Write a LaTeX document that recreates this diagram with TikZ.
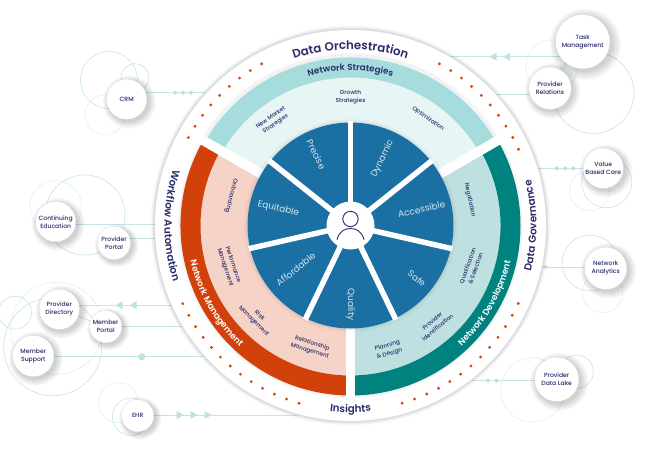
\documentclass[tikz,border=0pt]{standalone}
\usepackage{fontspec}
\setmainfont{Poppins}
\newfontfamily\semib{Poppins SemiBold}[LetterSpace=2]
\newfontfamily\medf{Poppins Medium}
\usetikzlibrary{decorations.text,shadows}
\definecolor{navy}{HTML}{2A2C6B}
\definecolor{lncol}{HTML}{C6E6E6}
\definecolor{mkcol}{HTML}{BCE2E2}
\definecolor{ored}{HTML}{D2410A}
\definecolor{opale}{HTML}{F5D3C6}
\definecolor{tdark}{HTML}{A6DCDC}
\definecolor{tpale}{HTML}{E8F5F5}
\definecolor{gdark}{HTML}{00827F}
\definecolor{gpale}{HTML}{BFE0E0}
\definecolor{wblue}{HTML}{1A6FA3}
\definecolor{wlab}{HTML}{D5E6F0}
\definecolor{dotr}{HTML}{D9450B}
\pgfdeclarelayer{bg}
\pgfsetlayers{bg,main}
\tikzset{
  softsh/.style={general shadow={draw=none,fill=black,fill opacity=.03,shadow xshift=2pt,shadow yshift=-2pt,shadow scale=#1}},
  softstack/.style={softsh=1.32,softsh=1.26,softsh=1.2,softsh=1.14,softsh=1.09,softsh=1.04},
  sat/.style={circle,fill=white,draw=lncol,dotted,line width=.4pt,inner sep=0pt,align=center,
    text=navy,font=\medf\fontsize{6.1}{8}\selectfont,softstack},
  ringsolid/.style={draw=lncol,line width=.6pt},
  ringdot/.style={draw=lncol,line width=.7pt,densely dotted},
  conn/.style={draw=lncol,line width=.8pt},
  wedge/.style={text=wlab,font=\fontsize{9}{10}\selectfont,inner sep=0pt},
  lab/.style={text=navy,font=\medf\fontsize{5.8}{8.2}\selectfont,align=center,inner sep=0pt},
}
\newcommand{\sect}[5]{\fill[#1] (#2:#5pt) arc[start angle=#2,end angle=#3,radius=#5pt] -- (#3:#4pt) arc[start angle=#3,end angle=#2,radius=#4pt] -- cycle;}
\newcommand{\arctxt}[6]{\path[decorate,decoration={text along path,text color=#4,text align=center,text={|#5|#6}}] (#2:#1pt) arc[start angle=#2,end angle=#3,radius=#1pt];}
\newcommand{\mdot}[2]{\fill[mkcol] (#1,#2) circle[radius=2pt];}
\newcommand{\tril}[2]{\fill[mkcol] (#1-3.5,#2) -- (#1+3.5,#2+4) -- (#1+3.5,#2-4) -- cycle;}
\newcommand{\trir}[2]{\fill[mkcol] (#1+3.5,#2) -- (#1-3.5,#2+4) -- (#1-3.5,#2-4) -- cycle;}
\newcommand{\ftop}{\semib\fontsize{11.8}{13}\selectfont}
\newcommand{\ftitle}{\semib\fontsize{10.3}{13}\selectfont}
\newcommand{\fband}{\semib\fontsize{8.8}{10}\selectfont}
\begin{document}
\begin{tikzpicture}[x=1pt,y=1pt]
\useasboundingbox (0,-453) rectangle (672,0);
\begin{pgfonlayer}{bg}
\fill[white] (0,-453) rectangle (672,0);
\end{pgfonlayer}
% satellites
\node[sat,minimum size=40pt] (crm) at (126.7,-99.3) {CRM};
\node[sat,minimum size=40pt] (ce) at (55.7,-221.7) {Continuing\\Education};
\node[sat,minimum size=33pt] (pp) at (114,-243) {Provider\\Portal};
\node[sat,minimum size=40pt] (pd) at (59.3,-309.3) {Provider\\Directory};
\node[sat,minimum size=32pt] (mp) at (105.7,-326.7) {Member\\Portal};
\node[sat,minimum size=41pt] (ms) at (33.3,-356) {Member\\Support};
\node[sat,minimum size=32pt] (ehr) at (137.7,-415.7) {EHR};
\node[sat,minimum size=54pt] (tm) at (582.7,-41.7) {Task\\Management};
\node[sat,minimum size=42pt] (pr) at (550,-88.3) {Provider\\Relations};
\node[sat,minimum size=40pt] (vbc) at (603.3,-168.3) {Value\\Based Care};
\node[sat,minimum size=42pt] (na) at (605.7,-268.3) {Network\\Analytics};
\node[sat,minimum size=44pt] (pdl) at (556.7,-379.3) {Provider\\Data Lake};
% connector ends
\coordinate (ecrm) at (205,-92.7);
\coordinate (ece) at (155,-224);
\coordinate (epp) at (155,-238);
\coordinate (epd) at (171.7,-305.3);
\coordinate (emp) at (181.7,-326.7);
\coordinate (ems) at (203,-356.7);
\coordinate (eehr) at (297,-415);
\coordinate (etm) at (451,-56.7);
\coordinate (epr) at (497,-94.3);
\coordinate (evbc) at (538,-168.3);
\coordinate (ena) at (542.3,-267);
\coordinate (epdl) at (471.7,-380.7);
\begin{pgfonlayer}{bg}
\draw[ringsolid] (109,-80) circle[radius=28.5];
\draw[ringsolid] (135,-77.7) circle[radius=14];
\draw[ringdot] (105,-115) circle[radius=20];
\draw[ringsolid] (85,-215) circle[radius=40];
\draw[ringdot] (55.7,-206.7) circle[radius=26];
\draw[ringsolid] (15,-312.7) circle[radius=16.5];
\draw[ringdot] (56.7,-328.3) circle[radius=46];
\draw[ringsolid] (52.7,-346.7) circle[radius=49];
\draw[ringdot] (118.3,-402.7) circle[radius=20];
\draw[ringsolid] (131,-416.7) circle[radius=18.7];
\draw[ringsolid] (593.3,-92.7) circle[radius=40.7];
\draw[ringdot] (551.7,-66) circle[radius=26];
\draw[ringsolid] (606.7,-182.7) circle[radius=25];
\draw[ringdot] (589.3,-190.7) circle[radius=20];
\draw[ringsolid] (590,-263) circle[radius=28];
\draw[ringdot] (602.7,-292.7) circle[radius=20];
\draw[ringsolid] (576.7,-371.7) circle[radius=16.7];
\draw[ringdot] (532.7,-390) circle[radius=32];
\draw[conn] (ecrm) -- (ecrm -| crm);
\draw[conn] (ece) -- (ece -| ce);
\draw[conn] (epp) -- (epp -| pp);
\draw[conn] (epd) -- (epd -| pd);
\draw[conn] (emp) -- (emp -| mp);
\draw[conn] (ems) -- (ems -| ms);
\draw[conn] (eehr) -- (eehr -| ehr);
\draw[conn] (etm) -- (etm -| tm);
\draw[conn] (epr) -- (epr -| pr);
\draw[conn] (evbc) -- (evbc -| vbc);
\draw[conn] (ena) -- (ena -| na);
\draw[conn] (epdl) -- (epdl -| pdl);
\draw[conn,line width=.6pt] (pd) -- (mp);
\draw[conn,line width=.6pt] (tm) -- (pr);
\end{pgfonlayer}
\mdot{175}{-92.7}\mdot{183}{-92.7}\mdot{191}{-92.7}
\tril{119}{-305.3}\tril{133}{-305.3}
\fill[mkcol] (141.7,-356.7) circle[radius=3.6pt];
\trir{180}{-415}\trir{194}{-415}\trir{208}{-415}
\tril{493}{-56.7}\tril{506.7}{-56.7}
\mdot{556.7}{-168.3}\mdot{565.3}{-168.3}\mdot{573.3}{-168.3}
\fill[mkcol] (542.3,-267) -- (547,-264.8) -- (547,-269.2) -- cycle;
\mdot{488}{-380.7}\mdot{496.7}{-380.7}
% main wheel
\begin{scope}[shift={(350.5,-225.5)}]
\foreach \r/\o in {200/.02,199/.03,198/.04,197/.05}{\fill[black,opacity=\o] (0,0) circle[radius=\r pt];}
\fill[white] (0,0) circle[radius=195.5pt];
\foreach \a in {0,...,9}{\fill[dotr] ({24.4+4.09*\a}:184.5pt) circle[radius=1.6pt];}
\foreach \a in {0,...,8}{\fill[dotr] ({118.8+4.09*\a}:184.5pt) circle[radius=1.6pt];}
\foreach \a in {0,...,12}{\fill[dotr] ({205+4.07*\a}:185pt) circle[radius=1.6pt];}
\foreach \a in {0,...,12}{\fill[dotr] ({286.2+4.07*\a}:185pt) circle[radius=1.6pt];}
\foreach \r/\o in {173/.02,171.5/.03}{\fill[black,opacity=\o] (0,0) circle[radius=\r pt];}
\sect{tpale}{30}{150}{103}{148}
\sect{tdark}{30}{150}{148}{168}
\sect{opale}{150}{270}{103}{150}
\sect{ored}{150}{270}{150}{170}
\sect{gpale}{-90}{30}{103}{150}
\sect{gdark}{-90}{30}{150}{170}
\foreach \a in {30,150,270}{\draw[white,line width=9.5pt] (0,0) -- (\a:176pt);}
\foreach \r/\o in {107/.02,105/.04}{\fill[black,opacity=\o] (0,0) circle[radius=\r pt];}
\fill[wblue] (0,0) circle[radius=103pt];
\foreach \a in {90,38.57,-12.86,-64.29,-115.71,-167.14,141.43}{\draw[white,line width=5.5pt] (0,0) -- (\a:104.5pt);}
\node[circle,fill=white,minimum size=48pt,inner sep=0pt] (hub) at (0,0) {};
\draw[navy,line width=.9pt] (hub.center)++(0,6.5) circle[radius=7.7pt];
\draw[navy,line width=.9pt,line cap=round] (hub.center)++(-13.5,-14) .. controls (-11,-5) and (-5,-3) .. (0,-3) .. controls (5,-3) and (11,-5) .. (13.5,-14);
% wedge labels
\node[wedge,rotate=64.3] (w1) at (64.3:74pt) {Dynamic};
\node[wedge,rotate=12.9] (w2) at (12.9:73pt) {Accessible};
\node[wedge,rotate=-38.6] (w3) at (-38.6:85pt) {Safe};
\node[wedge,rotate=-90] (w4) at (-90:79pt) {Quality};
\node[wedge,rotate=38.6] (w5) at (-141.4:70pt) {Affordable};
\node[wedge,rotate=-12.9] (w6) at (167.1:74pt) {Equitable};
\node[wedge,rotate=-64.3] (w7) at (115.7:79pt) {Precise};
% inner labels
\node[lab] (l1) at (90:128pt) {Growth\\Strategies};
\node[lab,rotate=35] (l2) at (126.5:130pt) {New Market\\Strategies};
\node[lab,rotate=-35] (l3) at (54:132pt) {Optimization};
\node[lab,rotate=-78] (l4) at (12:122pt) {Negotiation};
\node[lab,rotate=-104] (l5) at (166:123pt) {Onboarding};
\node[lab,rotate=-71.5] (l6) at (198.5:128pt) {Performance\\Management};
\node[lab,rotate=-45] (l7) at (224.7:132pt) {Risk\\Management};
\node[lab,rotate=-18] (l8) at (252:128pt) {Relationship\\Management};
\node[lab,rotate=15] (l9) at (-73:130pt) {Planning\\\& Design};
\node[lab,rotate=40] (l10) at (-49.5:130pt) {Provider\\Identification};
\node[lab,rotate=70] (l11) at (-19:128pt) {Qualification\\\& Selection};
% curved titles
\arctxt{176}{125}{55}{navy}{\ftop}{Data Orchestration}
\arctxt{186}{150}{210}{navy}{\ftitle}{Workflow Automation}
\arctxt{187}{250}{290}{navy}{\ftitle}{Insights}
\arctxt{186}{-30}{30}{navy}{\ftitle}{Data Governance}
\arctxt{155}{120}{60}{navy}{\fband}{Network Strategies}
\arctxt{164}{175}{245}{white}{\fband}{Network Management}
\arctxt{164}{-65}{5}{white}{\fband}{Network Development}
\end{scope}
\end{tikzpicture}
\end{document}
